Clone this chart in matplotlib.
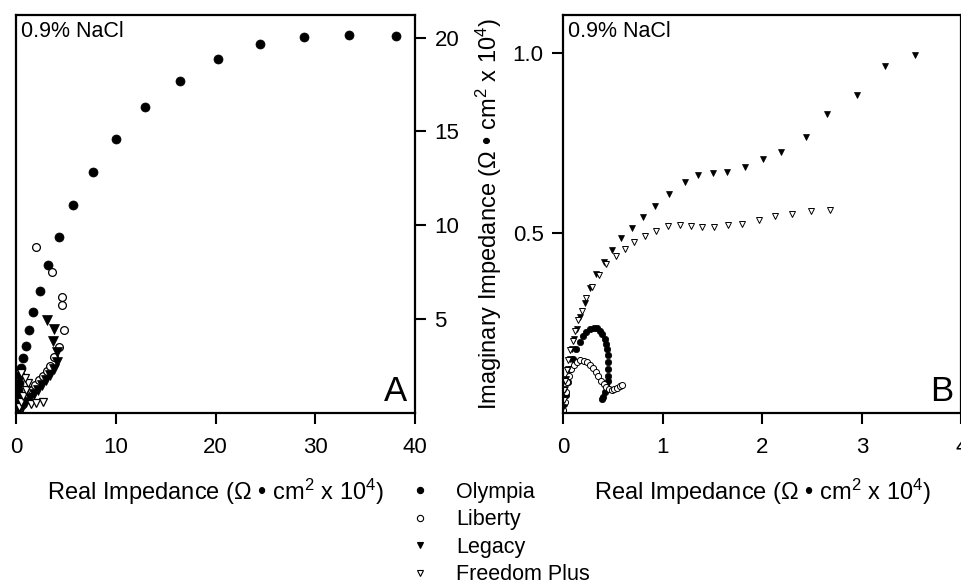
import matplotlib
matplotlib.use("Agg")
import matplotlib.pyplot as plt
from matplotlib.lines import Line2D

plt.rcParams['font.family'] = ['Liberation Sans', 'DejaVu Sans']
plt.rcParams['mathtext.fontset'] = 'custom'
plt.rcParams['mathtext.rm'] = 'Liberation Sans'
plt.rcParams['mathtext.it'] = 'Liberation Sans'

# ---- panel A (full range), units: ohm*cm^2 x 10^4 ----
olympia_a_x = [0.05, 0.1, 0.3, 0.15, 0.18, 0.22, 0.3, 0.4, 0.54, 0.74, 1.0, 1.34, 1.74, 2.37,
               3.18, 4.28, 5.75, 7.7, 10.0, 12.9, 16.4, 20.3, 24.5, 28.9, 33.4, 38.1]
olympia_a_y = [0.12, 0.3, 0.2, 0.55, 0.85, 1.2, 1.6, 2.0, 2.41, 2.93, 3.59, 4.41, 5.39, 6.52,
               7.88, 9.37, 11.07, 12.85, 14.6, 16.3, 17.69, 18.87, 19.65, 20.02, 20.14, 20.09]

liberty_a_x = [0.3, 0.6, 0.9, 1.23, 1.57, 1.9, 2.34, 2.68, 3.08, 3.41, 3.81, 4.35, 4.82, 4.62,
               4.58, 3.58, 2.0]
liberty_a_y = [0.25, 0.45, 0.69, 0.96, 1.23, 1.5, 1.76, 1.97, 2.26, 2.5, 2.96, 3.49, 4.41, 5.73,
               6.2, 7.49, 8.86]

legacy_a_x = [0.2, 0.4, 0.7, 1.0, 1.4, 1.8, 2.2, 2.6, 3.0, 3.4, 3.8, 4.15, 4.15, 3.75, 3.85, 3.08]
legacy_a_y = [0.15, 0.3, 0.45, 0.6, 0.8, 1.0, 1.25, 1.5, 1.75, 2.0, 2.35, 2.73, 3.26, 3.84, 4.49, 4.97]

freedom_a_x = [0.3, 0.5, 0.7, 1.0, 1.24, 0.9, 0.47, 1.5, 2.0, 2.7]
freedom_a_y = [0.3, 0.6, 0.9, 1.2, 1.59, 1.85, 2.15, 0.5, 0.55, 0.56]

# ---- panel B (expanded low range) ----
olympia_b_x = [0.005, 0.015, 0.033, 0.05, 0.074, 0.10, 0.134, 0.167, 0.20, 0.234, 0.268, 0.308,
               0.341, 0.368, 0.395, 0.418, 0.435, 0.445, 0.452, 0.455, 0.455, 0.452, 0.448,
               0.435, 0.418, 0.401, 0.395]
olympia_b_y = [0.005, 0.025, 0.049, 0.086, 0.123, 0.15, 0.178, 0.197, 0.215, 0.226, 0.234, 0.237,
               0.235, 0.229, 0.22, 0.206, 0.192, 0.178, 0.16, 0.141, 0.123, 0.104, 0.09,
               0.077, 0.058, 0.044, 0.038]

liberty_b_x = [0.005, 0.017, 0.027, 0.04, 0.06, 0.084, 0.11, 0.14, 0.174, 0.207, 0.241, 0.274,
               0.301, 0.328, 0.355, 0.381, 0.408, 0.435, 0.462, 0.488, 0.515, 0.542, 0.569, 0.595]
liberty_b_y = [0.008, 0.03, 0.058, 0.086, 0.104, 0.121, 0.132, 0.141, 0.146, 0.145, 0.141, 0.134,
               0.125, 0.114, 0.102, 0.09, 0.08, 0.072, 0.067, 0.065, 0.066, 0.069, 0.074, 0.078]

legacy_b_x = [0.003, 0.01, 0.02, 0.03, 0.05, 0.07, 0.09, 0.11, 0.14, 0.17, 0.22, 0.27, 0.33,
              0.41, 0.49, 0.58, 0.69, 0.80, 0.92, 1.06, 1.22, 1.36, 1.51, 1.65, 1.83, 2.01,
              2.19, 2.44, 2.65, 2.95, 3.23, 3.53]
legacy_b_y = [0.017, 0.04, 0.067, 0.095, 0.123, 0.15, 0.178, 0.206, 0.234, 0.266, 0.306, 0.348,
              0.385, 0.418, 0.453, 0.485, 0.514, 0.545, 0.575, 0.608, 0.642, 0.662, 0.666,
              0.668, 0.683, 0.705, 0.724, 0.767, 0.831, 0.883, 0.963, 0.993]

freedom_b_x = [0.007, 0.01, 0.02, 0.04, 0.05, 0.07, 0.10, 0.12, 0.15, 0.19, 0.23, 0.29, 0.36,
               0.43, 0.53, 0.62, 0.71, 0.82, 0.93, 1.05, 1.17, 1.28, 1.40, 1.52, 1.66, 1.80,
               1.97, 2.13, 2.30, 2.49, 2.68]
freedom_b_y = [0.035, 0.063, 0.09, 0.118, 0.146, 0.174, 0.201, 0.229, 0.257, 0.284, 0.319, 0.351,
               0.384, 0.414, 0.436, 0.455, 0.474, 0.491, 0.504, 0.518, 0.522, 0.519, 0.517,
               0.516, 0.521, 0.525, 0.535, 0.546, 0.552, 0.56, 0.563]

names = ['Olympia', 'Liberty', 'Legacy', 'Freedom Plus']
markers = ['o', 'o', 'v', 'v']
filled = [True, False, True, False]

xlabel = r'Real Impedance ($\Omega$ • cm$^2$ x 10$^4$)'
ylabel = r'Imaginary Impedance ($\Omega$ • cm$^2$ x 10$^4$)'

fig = plt.figure(figsize=(9.62, 5.84), dpi=100)
axA = fig.add_axes([16/962, 1-413/584, 399/962, 398/584])
axB = fig.add_axes([563/962, 1-413/584, 398.5/962, 398/584])

data_a = [(olympia_a_x, olympia_a_y), (liberty_a_x, liberty_a_y),
          (legacy_a_x, legacy_a_y), (freedom_a_x, freedom_a_y)]
data_b = [(olympia_b_x, olympia_b_y), (liberty_b_x, liberty_b_y),
          (legacy_b_x, legacy_b_y), (freedom_b_x, freedom_b_y)]


def draw(ax, data, ms, ms_open, mew):
    for (x, y), m, f in zip(data, markers, filled):
        if f:
            ax.plot(x, y, ls='none', marker=m, ms=ms, mfc='black', mec='black', mew=0.5)
        else:
            ax.plot(x, y, ls='none', marker=m, ms=ms_open, mfc='white', mec='black', mew=mew)


draw(axA, data_a, 6.5, 5.6, 0.9)
draw(axB, data_b, 4.6, 4.4, 0.7)

for ax in (axA, axB):
    for s in ax.spines.values():
        s.set_linewidth(1.6)
    ax.tick_params(direction='out', length=8, width=1.5, labelsize=16)
    ax.tick_params(axis='x', pad=9)
    ax.tick_params(axis='y', pad=6)
    ax.text(0.012, 0.985, '0.9% NaCl', transform=ax.transAxes, fontsize=15.5,
            ha='left', va='top')

axA.set_xlim(0, 40)
axA.set_ylim(0, 21.2)
axA.set_xticks([0, 10, 20, 30, 40])
axA.set_yticks([5, 10, 15, 20])
axA.yaxis.tick_right()
axA.set_xlabel(xlabel, fontsize=17, labelpad=14)
axA.text(0.98, 0.012, 'A', transform=axA.transAxes, fontsize=25, ha='right', va='bottom')

axB.set_xlim(0, 4)
axB.set_ylim(0, 1.105)
axB.set_xticks([0, 1, 2, 3, 4])
axB.set_yticks([0.5, 1.0])
axB.set_yticklabels(['0.5', '1.0'])
axB.set_xlabel(xlabel, fontsize=17, labelpad=14)
axB.set_ylabel(ylabel, fontsize=17, labelpad=6)
axB.text(0.98, 0.012, 'B', transform=axB.transAxes, fontsize=25, ha='right', va='bottom')

handles = []
for m, f in zip(markers, filled):
    handles.append(Line2D([], [], ls='none', marker=m, ms=4.5,
                          mfc='black' if f else 'white', mec='black', mew=0.8))
fig.legend(handles, names, loc='upper left', bbox_to_anchor=(409/962, 1-482/584),
           frameon=False, fontsize=15.5, labelspacing=0.3, handlelength=1.0,
           handletextpad=1.2, borderpad=0, borderaxespad=0)

fig.savefig('out.png', dpi=100)
